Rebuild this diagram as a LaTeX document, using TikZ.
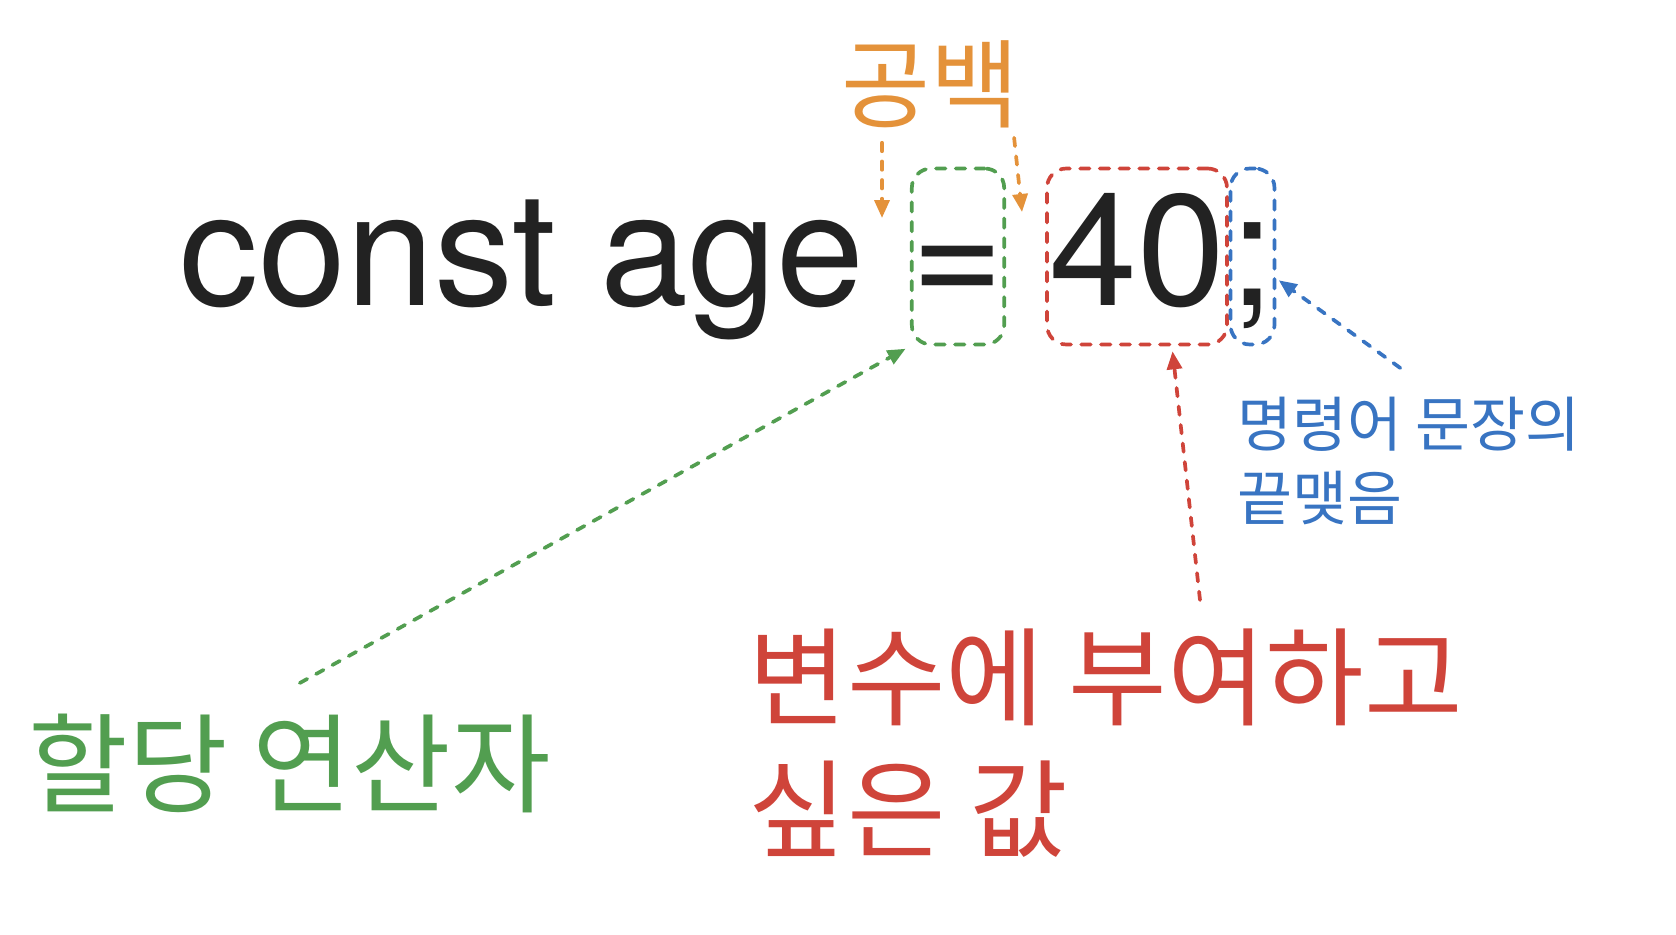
\documentclass[tikz,border=0pt]{standalone}
\usepackage{fontspec}
\setmainfont{TeX Gyre Heros}
\newfontfamily\hangul{Noto Sans CJK KR}
\usetikzlibrary{arrows.meta}
\definecolor{spaceorange}{HTML}{E4923A}
\definecolor{opgreen}{HTML}{529E50}
\definecolor{valred}{HTML}{CF443A}
\definecolor{endblue}{HTML}{3874C2}
\definecolor{codeblack}{HTML}{222222}

\begin{document}
\begin{tikzpicture}[
    codetext/.style={inner sep=0pt, text=codeblack, font=\fontsize{45}{54}\selectfont},
    partbox/.style={codetext, draw, line width=1.05pt, dash pattern=on 2.7pt off 2.9pt,
      line cap=round, rounded corners=5.5pt, text height=1.18cm, text depth=0.2cm,
      minimum height=1.76cm, anchor=base},
    note/.style={inner sep=0pt, align=left},
    ptr/.style={line width=1.05pt, dash pattern=on 2.4pt off 2.9pt, line cap=round,
      -{Triangle[length=0.18cm, width=0.15cm]}},
  ]
  \useasboundingbox (0,0) rectangle (16.76,9.34);
  % Code line
  \node[codetext, anchor=base west] (code) at (1.785,6.285) {const age};
  \node[partbox, draw=opgreen, minimum width=0.90cm] (eq) at (9.58,6.285) {=};
  \node[partbox, draw=valred, minimum width=1.80cm] (val) at (11.37,6.285) {40};
  \node[partbox, draw=endblue, minimum width=0.39cm] (semi) at (12.525,6.285) {;};
  % Labels
  \node[note, text=spaceorange, font=\hangul\fontsize{27.5}{33}\selectfont, anchor=north] (space) at (9.305,8.94) {공백};
  \node[note, text=opgreen, font=\hangul\fontsize{30.8}{37}\selectfont, anchor=north west] (assign) at (0.28,2.21) {할당 연산자};
  \node[note, text=valred, font=\hangul\fontsize{30.5}{37.6}\selectfont, anchor=north west] (wish) at (7.48,3.06) {변수에 부여하고\\싶은 값};
  \node[note, text=endblue, font=\hangul\fontsize{17}{21.05}\selectfont, anchor=north west] (stmtend) at (12.37,5.38) {명령어 문장의\\끝맺음};
  % Pointers
  \coordinate (gapL) at (8.82,7.16);
  \coordinate (gapR) at (10.22,7.22);
  \draw[ptr, spaceorange, shorten <=0.14cm] (space.south -| gapL) -- (gapL);
  \draw[ptr, spaceorange] ([xshift=-0.06cm, yshift=-0.09cm]space.south east) -- (gapR);
  \draw[ptr, opgreen, shorten >=0.05cm] ([shift={(0.10,0.30)}]assign.north) -- (eq.south west);
  \draw[ptr, valred, shorten >=0.05cm] ([shift={(4.52,0.28)}]wish.north west) -- ([xshift=0.35cm]val.south);
  \draw[ptr, endblue, shorten >=0.03cm] ([shift={(-0.09,0.28)}]stmtend.north) -- ([yshift=-0.22cm]semi.east);
\end{tikzpicture}
\end{document}
